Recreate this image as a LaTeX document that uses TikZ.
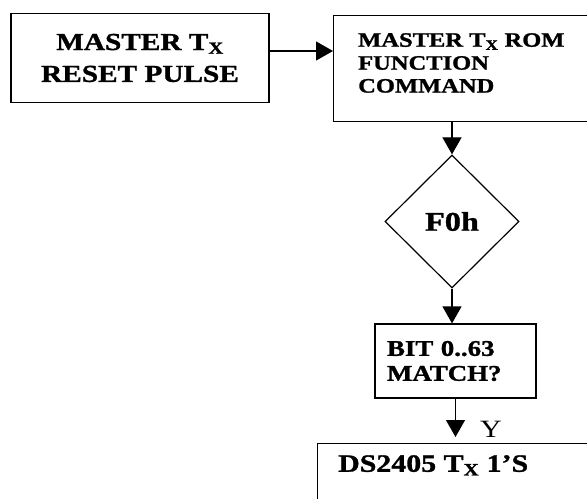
\documentclass[tikz,border=0pt]{standalone}
\usepackage{fontspec}
\setmainfont{Liberation Serif}[FakeStretch=1.2, BoldFeatures={FakeBold=1.2}]
\usetikzlibrary{shapes.geometric, arrows.meta, positioning}

\tikzset{
  blk/.style={draw, line width=1.2bp, rectangle, inner sep=0pt},
  txt/.style={inner sep=0pt, align=left},
  flow/.style={line width=1.2bp, -{Triangle[length=17bp,width=19bp]}},
}
\newcommand{\Tx}{T\textsubscript{X}}

\begin{document}
\begin{tikzpicture}[x=1bp, y=-1bp]
\useasboundingbox (0,0) rectangle (587,499);
\clip (0,0) rectangle (587,499);
%blocks
\node[blk, minimum width=258bp, minimum height=89bp, align=center,
      font=\fontsize{24.5}{32}\selectfont\bfseries] (reset) at (140,58) {MASTER \Tx\\RESET PULSE};
\node[blk, minimum width=280bp, minimum height=106bp, anchor=north west] (romcmd) at (333,15) {};
\node[txt, font=\fontsize{20.5}{23}\selectfont\bfseries,
      below right=18bp and 25bp of romcmd.north west] (romtxt) {MASTER \Tx{} ROM\\FUNCTION\\COMMAND};
\node[blk, diamond, shape aspect=1, minimum width=134bp, minimum height=133bp,
      font=\fontsize{27}{30}\selectfont\bfseries] (skip) at (452,221.5) {F0h};
\node[blk, minimum width=161bp, minimum height=74bp, text width=137bp, align=left,
      font=\fontsize{22.5}{25}\selectfont\bfseries] (match) at (455.5,361) {BIT 0..63\\MATCH?};
\node[blk, minimum width=290bp, minimum height=80bp, anchor=north west] (txones) at (317,443) {};
\node[txt, font=\fontsize{25}{25}\selectfont\bfseries,
      below right=12bp and 21bp of txones.north west] (txtxt) {DS2405 \Tx{} 1'S};
%arrows
\coordinate (r1) at ([yshift=7bp]reset.east);
\draw[flow] (r1) -- (r1 -| romcmd.west);
\draw[flow] (skip.north |- romcmd.south) -- (skip.north);
\draw[flow] (skip.south) -- (skip.south |- match.north);
\draw[flow] (match.south) -- ([yshift=6bp]match.south |- txones.north)
  node[at end, anchor=base west, xshift=24bp, inner sep=0pt, font=\fontsize{25}{25}\selectfont] (yes) {Y};
\end{tikzpicture}
\end{document}
